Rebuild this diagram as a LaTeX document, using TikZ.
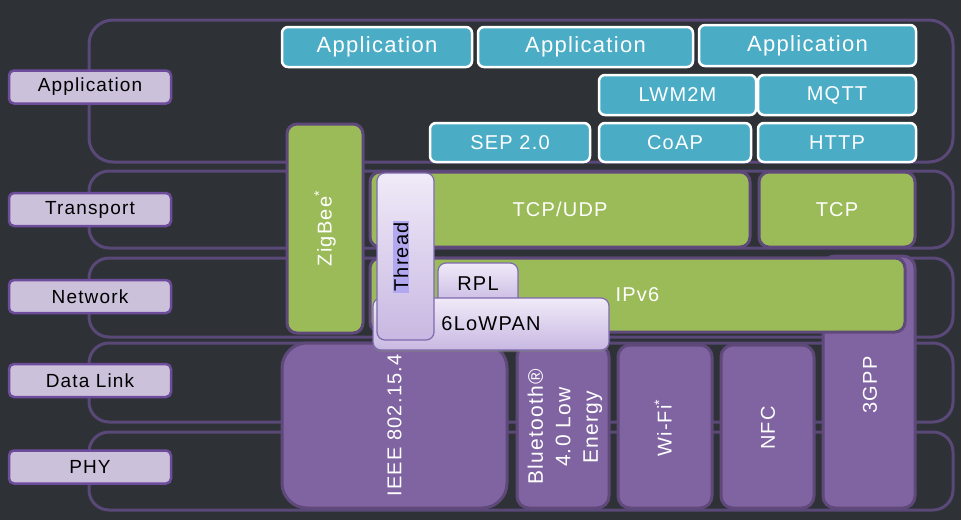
\documentclass[tikz,border=0pt]{standalone}
\usepackage{fontspec}
\setmainfont{Liberation Sans}
\newfontfamily\spacedfont[LetterSpace=6]{Liberation Sans}
\usetikzlibrary{positioning, shadows}
\definecolor{bgdark}{HTML}{2E3236}
\definecolor{bandline}{HTML}{5A4878}
\definecolor{labelfill}{HTML}{CCC1DA}
\definecolor{labelline}{HTML}{6E4C9C}
\definecolor{appblue}{HTML}{4BACC6}
\definecolor{leafgreen}{HTML}{9BBB59}
\definecolor{linkpurple}{HTML}{8064A2}
\definecolor{darkpurple}{HTML}{5F497A}
\definecolor{lilactop}{HTML}{F0EAF8}
\definecolor{lilacbot}{HTML}{C8B8E2}
\definecolor{lilacline}{HTML}{7E6AAE}
\definecolor{threadhl}{HTML}{B2A8F0}
\tikzset{
band/.style={draw=bandline, line width=3pt, rounded corners=20pt, inner sep=0pt},
layer/.style={draw=labelline, fill=labelfill, line width=2.5pt, rounded corners=5pt, inner sep=0pt,
  minimum width=162, minimum height=33, text=black, font=\spacedfont\fontsize{19}{22}\selectfont},
appbox/.style={draw=white, fill=appblue, line width=2.5pt, rounded corners=6pt, inner sep=0pt,
  text=white, font=\spacedfont\fontsize{20}{24}\selectfont},
greenbox/.style={draw=darkpurple, fill=leafgreen, line width=3pt, rounded corners=10pt, inner sep=0pt,
  text=white, font=\spacedfont\fontsize{20}{24}\selectfont},
linkbox/.style={draw=darkpurple, fill=linkpurple, line width=3pt, rounded corners=12pt, inner sep=0pt},
lilac/.style={draw=lilacline, top color=lilactop, bottom color=lilacbot, line width=1.2pt,
  rounded corners=8pt, inner sep=0pt, text=black, font=\spacedfont\fontsize{20}{24}\selectfont},
vtext/.style={rotate=90, text=white, inner sep=0pt, align=center, font=\spacedfont\fontsize{20}{27}\selectfont},
}

\begin{document}
\begin{tikzpicture}[x=1pt, y=-1pt]
    \fill[bgdark] (0,0) rectangle (961,520);
    \useasboundingbox (0,0) rectangle (961,520);

    %layer bands
    \node[band, rounded corners=24pt, minimum width=864, minimum height=142] (appband) at (521,91) { };
    \node[band, minimum width=864, minimum height=77] (transband) at (521,209.5) { };
    \node[band, minimum width=864, minimum height=79] (netband) at (521,297.5) { };
    \node[band, minimum width=864, minimum height=79] (linkband) at (521,382.5) { };
    \node[band, minimum width=864, minimum height=78] (phyband) at (521,471) { };

    %layer names
    \node[layer] (appname) at (90,87) {Application};
    \node[layer] (transname) at (90,209.5) {Transport};
    \node[layer] (netname) at (90,296.5) {Network};
    \node[layer] (linkname) at (90,380.5) {Data Link};
    \node[layer] (phyname) at (90,467) {PHY};

    %application layer
    \node[appbox, minimum width=190, minimum height=40, font=\spacedfont\fontsize{22}{26}\selectfont] (app1) at (377,47) {Application};
    \node[appbox, minimum width=215, minimum height=40, font=\spacedfont\fontsize{22}{26}\selectfont] (app2) at (585.5,47) {Application};
    \node[appbox, minimum width=217, minimum height=41, font=\spacedfont\fontsize{22}{26}\selectfont] (app3) at (807.5,45.5) {Application};
    \node[appbox, minimum width=157, minimum height=40] (lwm2m) at (677.5,95) {LWM2M};
    \node[appbox, minimum width=158, minimum height=40] (mqtt) at (837,95) {MQTT};
    \node[appbox, minimum width=160, minimum height=39] (sep) at (510,142.5) {SEP 2.0};
    \node[appbox, minimum width=152, minimum height=39] (coap) at (675,142.5) {CoAP};
    \node[appbox, minimum width=158, minimum height=39] (http) at (837,142.5) {HTTP};

    %transport layer
    \node[greenbox, minimum width=76, minimum height=209] (zigbee) at (325,228.5) { };
    \node[vtext] (zigbeetxt) at (zigbee) {ZigBee\textsuperscript{*}};
    \node[greenbox, minimum width=380, minimum height=75] (tcpudp) at (560,209.5) {TCP/UDP};
    \node[greenbox, minimum width=156, minimum height=75] (tcp) at (837,209.5) {TCP};

    %data link and phy
    \node[linkbox, rounded corners=25pt, minimum width=225, minimum height=165] (ieee) at (394.5,425.5) { };
    \node[linkbox, minimum width=92, minimum height=163] (ble) at (563,426.5) { };
    \node[linkbox, minimum width=94, minimum height=163] (wifi) at (665,426.5) { };
    \node[linkbox, minimum width=93, minimum height=163] (nfc) at (767.5,426.5) { };
    \node[linkbox, minimum width=92, minimum height=252] (gpp) at (869,382) { };
    \node[vtext] (ieeetxt) at (ieee) {IEEE 802.15.4};
    \node[vtext, font=\spacedfont\fontsize{21}{27.5}\selectfont] (bletxt) at (565,427) {Bluetooth®\\4.0 Low\\Energy};
    \node[vtext] (wifitxt) at (663,428) {Wi-Fi\textsuperscript{*}};
    \node[vtext] (nfctxt) at (768,428) {NFC};
    \node[vtext] (gpptxt) at (870,385) {3GPP};

    %network layer
    \node[greenbox, minimum width=535, minimum height=74] (ipv6) at (637.5,295) {IPv6};
    \node[lilac, minimum width=80, minimum height=42] (rpl) at (478,284) {RPL};
    \node[lilac, minimum width=236, minimum height=52, drop shadow={opacity=0.6, shadow xshift=0pt, shadow yshift=-2pt}] (sixlowpan) at (491,324) {6LoWPAN};
    \node[lilac, minimum width=57, minimum height=167] (thread) at (405.5,256.5) { };
    \node[vtext, text=black, fill=threadhl, inner sep=1pt] (threadtxt) at (401,257) {Thread};
\end{tikzpicture}
\end{document}
